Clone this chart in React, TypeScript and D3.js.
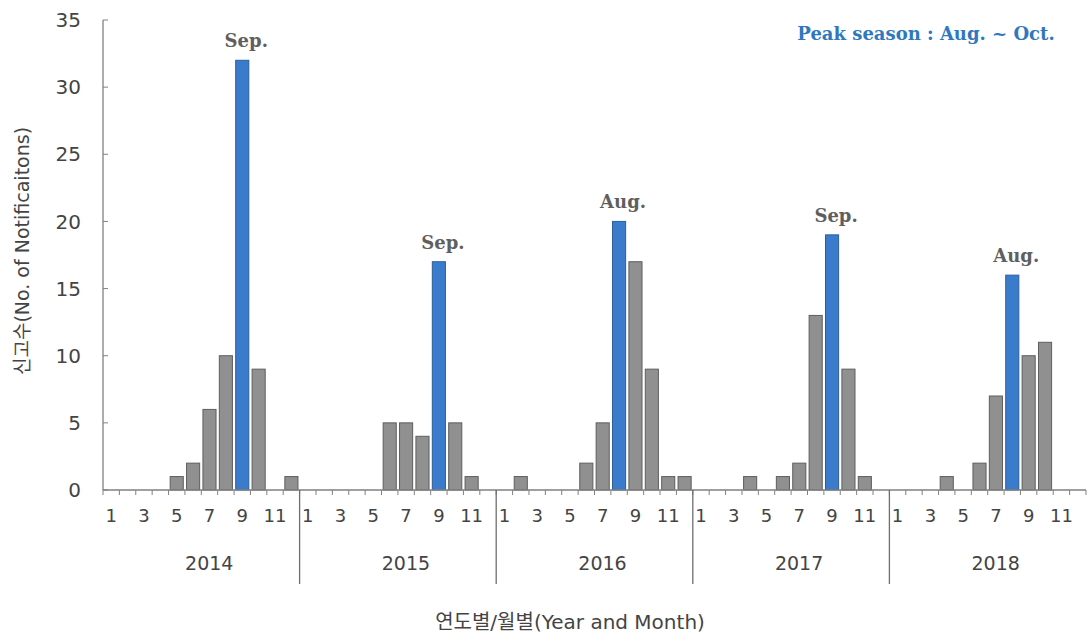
import React, { useRef, useEffect } from "react";
import { select, scaleBand, scaleLinear, range } from "d3";

// monthly notification counts (Jan..Dec)
const years = ["2014", "2015", "2016", "2017", "2018"];
const months = [1, 2, 3, 4, 5, 6, 7, 8, 9, 10, 11, 12];
const counts2014 = [0, 0, 0, 0, 1, 2, 6, 10, 32, 9, 0, 1];
const counts2015 = [0, 0, 0, 0, 0, 5, 5, 4, 17, 5, 1, 0];
const counts2016 = [0, 1, 0, 0, 0, 2, 5, 20, 17, 9, 1, 1];
const counts2017 = [0, 0, 0, 1, 0, 1, 2, 13, 19, 9, 1, 0];
const counts2018 = [0, 0, 0, 1, 0, 2, 7, 16, 10, 11, 0, 0];
const peakMonth = [9, 9, 8, 9, 8];
const peakLabel = ["Sep.", "Sep.", "Aug.", "Sep.", "Aug."];
const yTicks = [0, 5, 10, 15, 20, 25, 30, 35];
const monthLabels = [1, 3, 5, 7, 9, 11];

const W = 1088;
const H = 644;
const SANS = "'DejaVu Sans', 'Noto Sans CJK KR', sans-serif";
const SERIF = "'DejaVu Serif', serif";

function App() {
  const svgRef = useRef(null);

  useEffect(() => {
    const svg = select(svgRef.current);
    svg.selectAll("*").remove();

    const allCounts = [counts2014, counts2015, counts2016, counts2017, counts2018];

    const xYear = scaleBand().domain(years).range([103, 1086]);
    const xMonth = scaleBand()
      .domain(months.map(String))
      .range([0, xYear.bandwidth()])
      .paddingInner(0.2)
      .paddingOuter(0.1);
    const yScale = scaleLinear().domain([0, 35]).range([490, 20]);

    const bars = [];
    years.forEach((yr, i) => {
      allCounts[i].forEach((v, j) => {
        if (v > 0) bars.push({ yr, m: months[j], v, peak: months[j] === peakMonth[i] });
      });
    });

    // bars
    svg
      .selectAll(".bar")
      .data(bars)
      .join("rect")
      .attr("class", "bar")
      .attr("x", d => xYear(d.yr) + xMonth(String(d.m)))
      .attr("y", d => yScale(d.v))
      .attr("width", xMonth.bandwidth())
      .attr("height", d => yScale(0) - yScale(d.v))
      .attr("fill", d => (d.peak ? "#3a7ccb" : "#909090"))
      .attr("stroke", d => (d.peak ? "#2b5f9c" : "#5e5e5e"))
      .attr("stroke-width", 1);

    // y axis
    const axisColor = "#808080";
    svg.append("line")
      .attr("x1", 103).attr("x2", 103)
      .attr("y1", yScale(35)).attr("y2", yScale(0))
      .attr("stroke", axisColor).attr("stroke-width", 1.3);
    svg.selectAll(".ytick")
      .data(yTicks)
      .join("line")
      .attr("class", "ytick")
      .attr("x1", 103).attr("x2", 108)
      .attr("y1", d => yScale(d)).attr("y2", d => yScale(d))
      .attr("stroke", axisColor);
    svg.selectAll(".ylab")
      .data(yTicks)
      .join("text")
      .attr("class", "ylab")
      .attr("x", 81)
      .attr("y", d => yScale(d))
      .attr("dy", "0.36em")
      .attr("text-anchor", "end")
      .attr("font-family", SANS)
      .attr("font-size", 20)
      .attr("fill", "#444")
      .text(d => d);

    // x axis
    svg.append("line")
      .attr("x1", 103).attr("x2", 1086)
      .attr("y1", yScale(0)).attr("y2", yScale(0))
      .attr("stroke", axisColor).attr("stroke-width", 1.3);

    const step = xMonth.step();
    const boundaries = [];
    years.forEach(yr => range(0, 12).forEach(k => boundaries.push(xYear(yr) + k * step)));
    boundaries.push(1086);
    svg.selectAll(".xtick")
      .data(boundaries)
      .join("line")
      .attr("class", "xtick")
      .attr("x1", d => d).attr("x2", d => d)
      .attr("y1", yScale(0)).attr("y2", yScale(0) + 5)
      .attr("stroke", axisColor);

    // year separators
    svg.selectAll(".sep")
      .data(years.slice(1))
      .join("line")
      .attr("class", "sep")
      .attr("x1", d => xYear(d)).attr("x2", d => xYear(d))
      .attr("y1", yScale(0)).attr("y2", 584)
      .attr("stroke", "#6e6e6e").attr("stroke-width", 1.3);

    // month labels
    const mLabs = [];
    years.forEach(yr => monthLabels.forEach(m => mLabs.push({ yr, m })));
    svg.selectAll(".mlab")
      .data(mLabs)
      .join("text")
      .attr("class", "mlab")
      .attr("x", d => xYear(d.yr) + xMonth(String(d.m)) + xMonth.bandwidth() / 2)
      .attr("y", 522)
      .attr("text-anchor", "middle")
      .attr("font-family", SANS)
      .attr("font-size", 18)
      .attr("fill", "#444")
      .text(d => d.m);

    // year labels
    svg.selectAll(".ylabel")
      .data(years)
      .join("text")
      .attr("class", "ylabel")
      .attr("x", d => xYear(d) + xYear.bandwidth() / 2 + 8)
      .attr("y", 570)
      .attr("text-anchor", "middle")
      .attr("font-family", SANS)
      .attr("font-size", 19)
      .attr("fill", "#444")
      .text(d => d);

    // peak annotations
    svg.selectAll(".peak")
      .data(years)
      .join("text")
      .attr("class", "peak")
      .attr("x", (d, i) => xYear(d) + xMonth(String(peakMonth[i])) + xMonth.bandwidth() / 2 + 4)
      .attr("y", (d, i) => yScale(allCounts[i][peakMonth[i] - 1]) - 13)
      .attr("text-anchor", "middle")
      .attr("font-family", SERIF)
      .attr("font-weight", "bold")
      .attr("font-size", 18)
      .attr("fill", "#5f5f5f")
      .text((d, i) => peakLabel[i]);

    svg.append("text")
      .attr("x", 926)
      .attr("y", 40)
      .attr("text-anchor", "middle")
      .attr("font-family", SERIF)
      .attr("font-weight", "bold")
      .attr("font-size", 18)
      .attr("fill", "#2f78c0")
      .text("Peak season : Aug. ~ Oct.");

    // axis titles
    svg.append("text")
      .attr("transform", "translate(22,251) rotate(-90)")
      .attr("text-anchor", "middle")
      .attr("dy", "0.35em")
      .attr("font-family", SANS)
      .attr("font-size", 19)
      .attr("fill", "#444")
      .text("신고수(No. of Notificaitons)");

    svg.append("text")
      .attr("x", 570)
      .attr("y", 629)
      .attr("text-anchor", "middle")
      .attr("font-family", SANS)
      .attr("font-size", 20)
      .attr("fill", "#444")
      .text("연도별/월별(Year and Month)");
  }, []);

  return (
    <svg
      ref={svgRef}
      width={W}
      height={H}
      style={{ position: "absolute", left: 0, top: 0, background: "#fff" }}
    />
  );
}

export default App;
